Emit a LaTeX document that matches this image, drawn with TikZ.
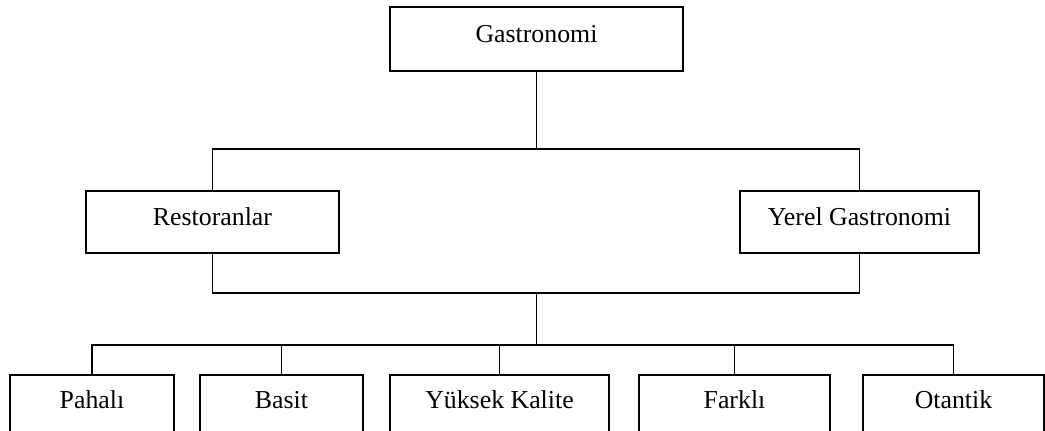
\documentclass[tikz,border=0pt]{standalone}
\usepackage{fontspec}
\setmainfont{Liberation Serif}

\tikzset{
  box/.style={draw, line width=0.8pt, rectangle, outer sep=0pt, inner sep=0pt,
    text height=0.7em, text depth=0.3em, font=\fontsize{14.7}{17}\selectfont},
  link/.style={line width=0.8pt}
}

\begin{document}
\begin{tikzpicture}[x=0.02cm, y=-0.02cm]

% Page frame
\useasboundingbox (0,0) rectangle (1045,430);

% Draw the top box
\node[box, minimum width=5.86cm, minimum height=1.28cm] (gastro) at (536.5,39) {Gastronomi};

% Draw the middle boxes
\node[box, minimum width=5.06cm, minimum height=1.24cm] (resto) at (212.5,222) {Restoranlar};
\node[box, minimum width=4.78cm, minimum height=1.24cm] (yerel) at (859.5,222) {Yerel Gastronomi};

% Draw the bottom boxes
\node[box, minimum width=3.28cm, minimum height=1.18cm] (pahali) at (92,404.5) {Pahalı};
\node[box, minimum width=3.26cm, minimum height=1.18cm] (basit) at (281.5,404.5) {Basit};
\node[box, minimum width=4.38cm, minimum height=1.18cm] (yuksek) at (499.5,404.5) {Yüksek Kalite};
\node[box, minimum width=3.82cm, minimum height=1.18cm] (farkli) at (734.5,404.5) {Farklı};
\node[box, minimum width=3.62cm, minimum height=1.18cm] (otantik) at (953.5,404.5) {Otantik};

% Draw the junctions
\coordinate (topbus) at (gastro.south |- 0,149);
\coordinate (midbus) at (gastro.south |- 0,293);
\coordinate (lowbus) at (gastro.south |- 0,345);

% Draw the connectors
\draw[link] (gastro.south) -- (topbus);
\draw[link] (resto.north) |- (topbus) -| (yerel.north);
\draw[link] (resto.south) |- (midbus) -| (yerel.south);
\draw[link] (midbus) -- (lowbus);
\foreach \n in {pahali,basit,yuksek,farkli,otantik}
  \draw[link] (lowbus) -| (\n.north);

\end{tikzpicture}
\end{document}
